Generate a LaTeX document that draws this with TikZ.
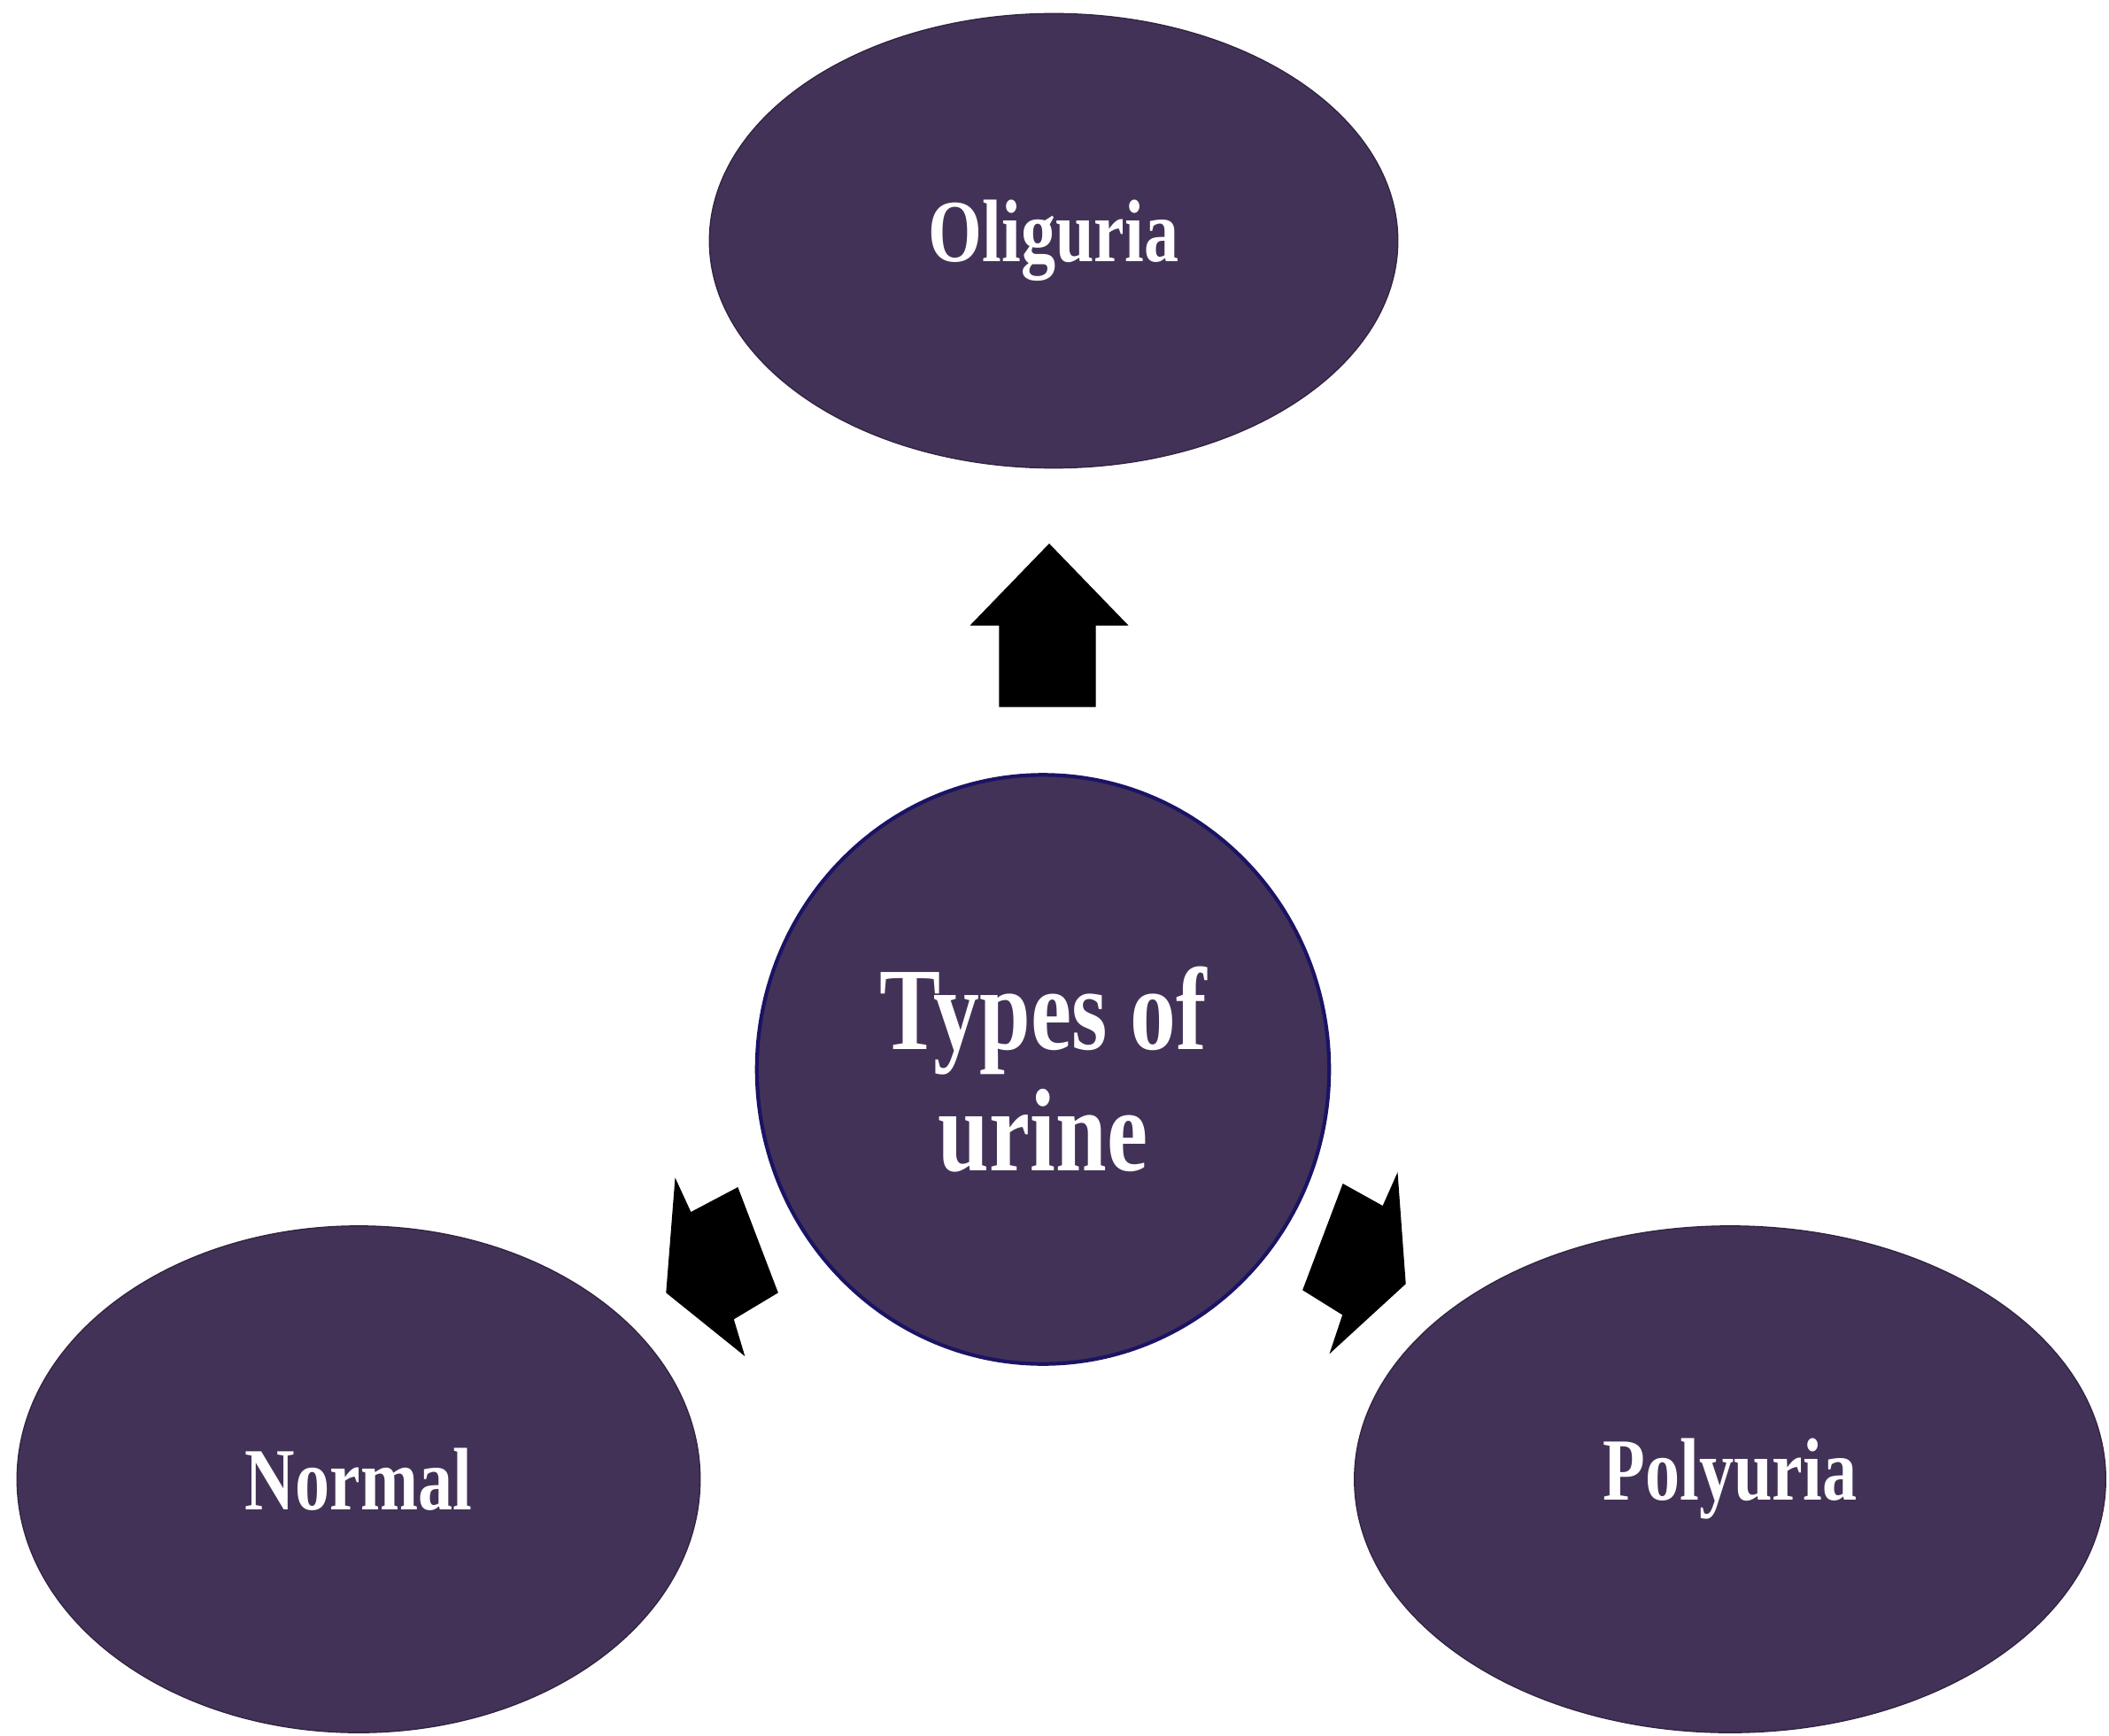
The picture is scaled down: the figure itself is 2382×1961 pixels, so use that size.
\documentclass[tikz,border=0pt]{standalone}
\usepackage{fontspec}
\setmainfont{Liberation Serif}
\usepackage{tikz}
\usetikzlibrary{shapes.geometric,positioning,calc}

\definecolor{bubble}{HTML}{433258}
\definecolor{rim}{HTML}{1B1464}
\newcommand{\narrowtext}[1]{\scalebox{0.78}[1]{#1}}

\begin{document}
\begin{tikzpicture}[x=0.01cm, y=-0.01cm,
    bubble/.style={ellipse, fill=bubble, draw=bubble!75!black, inner sep=0pt, text=white,
      font=\fontsize{28.5}{32}\selectfont\bfseries},
    blockarrow/.style={fill=black, draw=black, line join=miter}]
  \useasboundingbox (0,0) rectangle (2382,1961);

  \node[bubble, minimum width=7.77cm, minimum height=5.13cm] at (1190, 272) (olig) {\narrowtext{Oliguria}};
  \node[bubble, minimum width=7.71cm, minimum height=5.72cm] at (405, 1671) (normal) {\narrowtext{Normal}};
  \node[bubble, minimum width=8.48cm, minimum height=5.72cm] at (1954, 1671) (poly) {\narrowtext{Polyuria}};
  \node[bubble, draw=rim, line width=1.2pt, minimum width=6.46cm, minimum height=6.65cm, align=center,
    font=\fontsize{37.8}{39}\selectfont\bfseries] at (1178, 1208) (types) {\narrowtext{Types of}\\\narrowtext{urine}};

  % block arrows from the centre
  \fill[blockarrow] (1185,615) -- (1273,706) -- (1237,706) -- (1237,798) -- (1129,798) -- (1129,706) -- (1097,706) -- cycle;
  \fill[blockarrow] (753,1460) -- (763,1333) -- (780,1370) -- (833,1342) -- (878,1460) -- (828,1490) -- (840,1530) -- cycle;
  \fill[blockarrow] (1587,1450) -- (1503,1527) -- (1517,1485) -- (1472,1457) -- (1517,1338) -- (1562,1363) -- (1578,1327) -- cycle;
\end{tikzpicture}
\end{document}
